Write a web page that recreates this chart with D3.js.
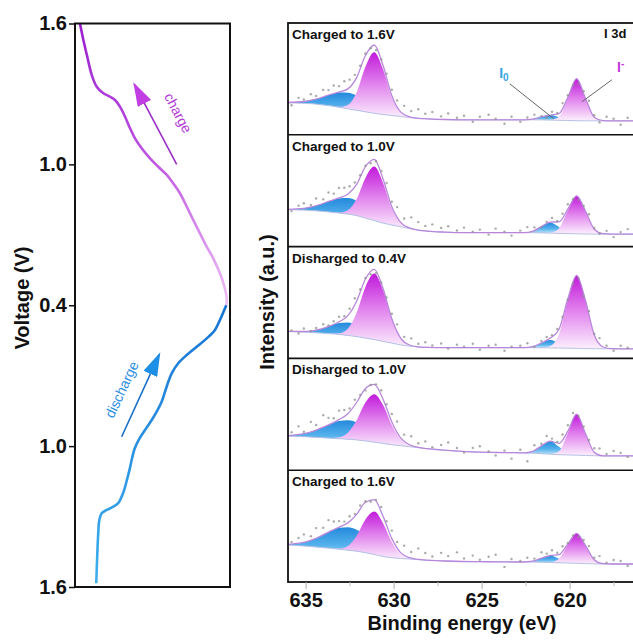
<!DOCTYPE html>
<html><head><meta charset="utf-8">
<script src="https://cdn.jsdelivr.net/npm/d3@7"></script>
<style>
body{margin:0;background:#fff;}
svg{display:block;font-family:"Liberation Sans",Arial,sans-serif;}
</style>
</head><body>
<svg id="c" width="633" height="641"></svg>
<script>
// ---------------- DATA ----------------
// Left panel: voltage profile (capacity in arbitrary %, voltage in V)
const voltageTickPos = [0, 0.6, 1.2, 1.8, 2.4];
const voltageTickLabels = ["1.6", "1.0", "0.4", "1.0", "1.6"];
const chargeCurve = [[3.2,1.6],[5.4,1.53],[7.9,1.459],[10.8,1.381],[14.0,1.331],[18.3,1.303],[22.6,1.288],[25.8,1.274],[29.0,1.246],[32.3,1.203],[35.5,1.154],[38.7,1.111],[43.0,1.069],[48.4,1.026],[53.7,0.99],[59.2,0.955],[63.4,0.919],[67.7,0.877],[72.1,0.82],[76.3,0.763],[80.6,0.706],[85.0,0.649],[89.2,0.6],[93.5,0.536],[96.1,0.486],[97.4,0.451],[97.9,0.422],[97.6,0.40]];
const dischargeCurve = [[97.6,0.40],[93.5,0.463],[90.3,0.505],[85.0,0.541],[78.5,0.577],[72.1,0.612],[66.6,0.647],[62.4,0.69],[60.2,0.726],[58.1,0.768],[55.9,0.811],[52.7,0.853],[49.5,0.889],[45.2,0.931],[41.2,0.972],[38.4,1.012],[36.7,1.055],[35.2,1.100],[33.5,1.144],[31.7,1.187],[30.1,1.215],[27.9,1.243],[24.7,1.258],[20.5,1.272],[17.2,1.286],[15.7,1.315],[15.0,1.371],[14.4,1.456],[14.0,1.528],[13.7,1.584]];
const chargeArrow = [[65.6,1.0],[38.3,1.341]];      // tail, tip (capacity, V)
const dischargeArrow = [[30.1,0.96],[54.4,0.609]];
const chargeLabelAt = [66.5,1.219];
const dischargeLabelAt = [30.1,0.759];

// Right panel: I 3d XPS spectra
const energyGrid = [636,635.1,634.6,634.1,633.6,633.1,632.6,632.1,631.6,631.1,630.6,630.1,629.6,629.1,628.6,628.1,627.1,626.1,625.1,624.1,623.1,622.6,622.1,621.6,621.1,620.6,620.1,619.6,619.1,618.6,618.1,617.6,617.1,616.1,615.1,614];
const panelLabels = ["Charged to 1.6V","Charged to 1.0V","Disharged to 0.4V","Disharged to 1.0V","Charged to 1.6V"];
const energyTicks = [635,630,625,620];
const energyMinorTicks = [632.5,627.5,622.5,617.5];

const bg1 = [32,31.5,31,30,29,27.5,26,24.5,23,21.5,20.3,19.3,18.3,17.3,16.5,16,15.3,15,15,15,15,15,15,14.9,14.7,14.5,14.3,14.1,14,14,14,14,14,14,14,14];
const i0_1 = [0.3,1.8,4.0,7.3,11.3,14.7,16,14.7,11.3,7.3,4.0,1.8,0.7,0.2,0,0,0,0,0,0,0,0,0.7,3,5,3,0.7,0,0,0,0,0,0,0,0,0];
const im_1 = [0,0,0,0,0,0.5,3.9,18,45,61,45,18,3.9,0.5,0,0,0,0,0,0,0,0,0,0,0,3.6,22.6,42,22.6,3.6,0.2,0,0,0,0,0];

const bg2 = [37,36.5,36,35.3,34.5,33.5,32.5,31,28.5,26,23.5,21.5,19.8,18,16.5,15.5,14.5,14,14,14,14,14,13.9,13.7,13.5,13.2,13,12.8,12.6,12.5,12.5,12.5,12.5,12.5,12.5,12.5];
const i0_2 = [0.3,1.8,4.0,7.3,11.3,14.7,16,14.7,11.3,7.3,4.0,1.8,0.7,0.2,0,0,0,0,0,0,0,0,1.4,6.4,10.6,6.4,1.4,0,0,0,0,0,0,0,0,0];
const im_2 = [0,0,0,0,0,0.5,3.8,16.5,40.2,54,40.2,16.5,3.8,0.5,0,0,0,0,0,0,0,0,0,0,0.4,5.1,23,38,23,5.1,0.4,0,0,0,0,0];

const bg3 = [27,26.3,25.8,25.3,24.7,24,23,21.8,20.3,18.8,17,15.3,13.5,12.3,11.5,11,10.8,10.7,10.7,10.7,10.7,10.7,10.7,10.6,10.5,10.4,10.2,10,9.8,9.7,9.6,9.6,9.6,9.6,9.6,9.6];
const i0_3 = [0,0.6,1.8,4.2,7.9,11.5,13,11.5,7.9,4.2,1.8,0.6,0.1,0,0,0,0,0,0,0,0,0,1.1,4.9,8,4.9,1.1,0,0,0,0,0,0,0,0,0];
const im_3 = [0,0,0,0,0,1.1,6.7,23.8,51.2,66,51.2,23.8,6.7,1.1,0.1,0,0,0,0,0,0,0,0,0,1.8,13.9,48.3,73,48.3,13.9,1.8,0.1,0,0,0,0];

const bg4 = [34,33.5,33,32.5,32,31.5,31,30.3,29.3,28,26.8,25.5,24.5,23.5,22.5,21.5,20,18.8,18,17.7,17.5,17.3,17,16.5,16,15.5,15.2,15,14.7,14.5,14.3,14.3,14.3,14.3,14.3,14.3];
const i0_4 = [0.6,3.0,5.8,9.8,14.1,17.7,19,17.7,14.1,9.8,5.8,3.0,1.3,0.5,0.2,0,0,0,0,0,0,0,1.8,7.9,13,7.9,1.8,0.1,0,0,0,0,0,0,0,0];
const im_4 = [0,0,0,0,0,1.4,6.5,19.7,38.4,48,38.4,19.7,6.5,1.4,0.2,0,0,0,0,0,0,0,0,0,0,3.5,22,41,22,3.5,0,0,0,0,0,0];

const bg5 = [37,36,35.3,34.5,33.7,32.8,31.8,30.8,29.3,27.5,25.5,24.3,23.5,23,22.3,21.8,21,20.5,20.3,20.2,20,20,19.9,19.7,19.5,19.2,19,18.7,18.4,18.2,18,18,18,18,18,18];
const i0_5 = [0.7,3.6,7.0,11.8,17.1,21.4,23,21.4,17.1,11.8,7.0,3.6,1.6,0.6,0.2,0,0,0,0,0,0,0,0.9,4.1,6.7,4.1,0.9,0,0,0,0,0,0,0,0,0];
const im_5 = [0,0,0,0,0,0.7,4.3,15.5,33.3,43,33.3,15.5,4.3,0.7,0.1,0,0,0,0,0,0,0,0,0,0.3,4.1,18.2,30,18.2,4.1,0.3,0,0,0,0,0];

// raw data points: energies and residuals from fitted envelope
const dotEnergies = [635.8,635.4,635.1,634.7,634.4,634.0,633.7,633.4,633.1,632.8,632.5,632.2,631.9,631.6,631.3,631.0,630.7,630.4,630.1,629.8,629.4,629.0,628.6,628.2,627.8,627.3,626.9,626.4,626.0,625.5,625.1,624.6,624.2,623.7,623.3,622.8,622.4,622.0,621.6,621.3,621.0,620.7,620.4,620.1,619.8,619.5,619.2,618.9,618.6,618.3,617.9,617.5,617.1,616.7,616.3,615.9,615.5,615.1,614.7];
const res1 = [-3,4,2,6,3,7,5,8,6,9,7,5,3,2,1,-1,2,4,6,5,8,6,9,5,7,3,6,2,4,-2,3,5,1,-4,3,-2,2,4,1,-2,3,1,4,2,1,-1,3,5,2,-3,4,2,-4,3,-2,4,1,-3,2];
const res2 = [-2,3,5,2,7,4,9,6,10,8,6,4,2,1,-1,2,4,7,5,9,6,11,8,5,7,4,6,2,5,1,3,-2,4,1,-3,2,5,3,-1,2,4,1,3,5,2,-1,2,4,1,-2,3,-3,2,5,-4,1,3,-2,4];
const res3 = [1,-2,3,0,2,4,1,3,5,2,4,6,3,1,-1,0,2,3,5,6,4,7,3,5,2,4,-1,3,1,4,-2,2,3,-3,1,2,4,-1,2,3,1,2,0,-1,1,2,-1,3,1,4,2,-2,3,1,-3,2,4,1,-2];
const res4 = [3,8,2,10,5,12,7,4,9,6,3,5,2,-2,1,3,6,4,8,10,6,9,4,7,2,5,8,3,-1,4,6,1,-3,2,-6,3,-9,5,2,7,3,1,4,6,8,2,3,1,4,6,2,5,3,-1,4,2,5,3,1];
const res5 = [2,5,8,4,10,7,12,8,6,3,5,2,4,1,-1,3,6,4,8,5,9,6,11,7,4,8,5,9,3,6,2,5,7,-5,3,1,4,2,6,3,5,2,4,1,2,-1,3,5,2,6,1,4,3,-2,5,2,4,1,3];

// annotation anchors in panel 1 (energy, intensity)
const i0LabelAt = [624.0, 57];
const imLabelAt = [617.3, 63];
const i0Leader = [[623.4, 51],[620.9, 16]];
const imLeader = [[617.6, 55],[619.3, 33]];

// ---------------- DRAW ----------------
const svg = d3.select("#c");
const defs = svg.append("defs");
const BOLD = "bold";

// ===== Left panel =====
const cx = d3.scaleLinear().domain([0,100]).range([75,230]);
const vy = d3.scaleLinear().domain([0,2.4]).range([23.5,587]);

const cg = defs.append("linearGradient").attr("id","chgGrad").attr("gradientUnits","userSpaceOnUse")
  .attr("x1",0).attr("x2",0).attr("y1",vy(0)).attr("y2",vy(1.2));
cg.append("stop").attr("offset",0).attr("stop-color","#9a1fd0");
cg.append("stop").attr("offset",0.45).attr("stop-color","#bb4fe0");
cg.append("stop").attr("offset",1).attr("stop-color","#f0c2f6");
const dg = defs.append("linearGradient").attr("id","disGrad").attr("gradientUnits","userSpaceOnUse")
  .attr("x1",0).attr("x2",0).attr("y1",vy(1.2)).attr("y2",vy(2.4));
dg.append("stop").attr("offset",0).attr("stop-color","#1673d4");
dg.append("stop").attr("offset",1).attr("stop-color","#3eb0ee");

function marker(id, color){
  defs.append("marker").attr("id",id).attr("viewBox","0 0 10 10")
    .attr("refX",9).attr("refY",5).attr("markerUnits","userSpaceOnUse")
    .attr("markerWidth",24).attr("markerHeight",15).attr("orient","auto")
    .attr("preserveAspectRatio","none")
    .append("path").attr("d","M0,0 L10,5 L0,10 Z").attr("fill",color);
}
marker("mChg","#c13ee2");
marker("mDis","#1e8fe6");

svg.append("path").datum(chargeCurve)
  .attr("d", d3.line().x(d=>cx(d[0])).y(d=>vy(1.6-d[1])).curve(d3.curveCatmullRom))
  .attr("fill","none").attr("stroke","url(#chgGrad)").attr("stroke-width",2.6);
svg.append("path").datum(dischargeCurve)
  .attr("d", d3.line().x(d=>cx(d[0])).y(d=>vy(d[1]+0.8)).curve(d3.curveCatmullRom))
  .attr("fill","none").attr("stroke","url(#disGrad)").attr("stroke-width",2.6);

// arrows
svg.append("line")
  .attr("x1",cx(chargeArrow[0][0])).attr("y1",vy(1.6-chargeArrow[0][1]))
  .attr("x2",cx(chargeArrow[1][0])).attr("y2",vy(1.6-chargeArrow[1][1]))
  .attr("stroke","#9a2fc8").attr("stroke-width",1.6).attr("marker-end","url(#mChg)");
svg.append("line")
  .attr("x1",cx(dischargeArrow[0][0])).attr("y1",vy(dischargeArrow[0][1]+0.8))
  .attr("x2",cx(dischargeArrow[1][0])).attr("y2",vy(dischargeArrow[1][1]+0.8))
  .attr("stroke","#1a70c8").attr("stroke-width",1.6).attr("marker-end","url(#mDis)");

svg.append("text").text("charge")
  .attr("transform",`translate(${cx(chargeLabelAt[0])},${vy(1.6-chargeLabelAt[1])}) rotate(62)`)
  .attr("text-anchor","middle").attr("dy","0.35em")
  .attr("font-size",14).attr("fill","#b23ad6");
svg.append("text").text("discharge")
  .attr("transform",`translate(${cx(dischargeLabelAt[0])},${vy(dischargeLabelAt[1]+0.8)}) rotate(-65)`)
  .attr("text-anchor","middle").attr("dy","0.35em")
  .attr("font-size",14).attr("fill","#2a8ee0");

svg.append("rect").attr("x",cx(0)).attr("y",vy(0)).attr("width",cx(100)-cx(0)).attr("height",vy(2.4)-vy(0))
  .attr("fill","none").attr("stroke","#111").attr("stroke-width",2);

const yAx = svg.append("g").attr("transform",`translate(${cx(0)},0)`)
  .call(d3.axisLeft(vy).tickValues(voltageTickPos).tickFormat((d,i)=>voltageTickLabels[i]).tickSize(6).tickPadding(2));
yAx.select(".domain").remove();
yAx.selectAll("line").attr("stroke","#111").attr("stroke-width",1.5);
yAx.selectAll("text").attr("font-size",20).attr("font-weight",BOLD).attr("fill","#111")
  .attr("font-family","Liberation Sans, Arial, sans-serif");

svg.append("text").text("Voltage (V)")
  .attr("transform","translate(29,298) rotate(-90)").attr("text-anchor","middle")
  .attr("font-size",20).attr("font-weight",BOLD).attr("fill","#111");

// ===== Right panel =====
const top0 = 23, bottom0 = 582, nP = 5;
const pH = (bottom0-top0)/nP;
const ex = d3.scaleLinear().domain([636,614]).range([288, 288+22*17.6]);

defs.append("clipPath").attr("id","rclip").append("rect")
  .attr("x",288).attr("y",top0).attr("width",633-288).attr("height",bottom0-top0);

function vgrad(id, stops){
  const g = defs.append("linearGradient").attr("id",id).attr("x1",0).attr("x2",0).attr("y1",0).attr("y2",1);
  stops.forEach(s=>g.append("stop").attr("offset",s[0]).attr("stop-color",s[1]));
}
vgrad("gMag", [[0,"#c11ada"],[0.45,"#df7cec"],[1,"#fcf0fd"]]);
vgrad("gBlue", [[0,"#2489dc"],[0.55,"#55b2ec"],[1,"#cdebfa"]]);

const panels = [
  {label: panelLabels[0], bg: bg1, i0: i0_1, im: im_1, res: res1},
  {label: panelLabels[1], bg: bg2, i0: i0_2, im: im_2, res: res2},
  {label: panelLabels[2], bg: bg3, i0: i0_3, im: im_3, res: res3},
  {label: panelLabels[3], bg: bg4, i0: i0_4, im: im_4, res: res4},
  {label: panelLabels[4], bg: bg5, i0: i0_5, im: im_5, res: res5},
];

function runs(arr){
  const out = []; let s = -1;
  arr.forEach((v,i)=>{
    if (v>0 && s<0) s=i;
    if ((v<=0 || i===arr.length-1) && s>=0){ out.push([Math.max(0,s-1), i]); s=-1; }
  });
  return out;
}

const rp = svg.append("g").attr("clip-path","url(#rclip)");

panels.forEach((p,k)=>{
  const t = top0 + k*pH, b = t + pH;
  const y = d3.scaleLinear().domain([0,pH]).range([b,t]);
  const g = rp.append("g");
  const env = energyGrid.map((e,i)=>p.bg[i]+p.i0[i]+p.im[i]);

  function drawComp(comp, fill){
    runs(comp).forEach(([a,z])=>{
      const idx = d3.range(a,z+1);
      g.append("path").datum(idx)
        .attr("d", d3.area().x(i=>ex(energyGrid[i])).y0(i=>y(p.bg[i])).y1(i=>y(p.bg[i]+comp[i])).curve(d3.curveMonotoneX))
        .attr("fill",fill).attr("stroke","none");
    });
  }
  drawComp(p.i0, "url(#gBlue)");
  drawComp(p.im, "url(#gMag)");

  const idxAll = d3.range(energyGrid.length);
  g.append("path").datum(idxAll)
    .attr("d", d3.line().x(i=>ex(energyGrid[i])).y(i=>y(p.bg[i])).curve(d3.curveMonotoneX))
    .attr("fill","none").attr("stroke","#b7c2e6").attr("stroke-width",1);
  g.append("path").datum(idxAll)
    .attr("d", d3.line().x(i=>ex(energyGrid[i])).y(i=>y(env[i])).curve(d3.curveMonotoneX))
    .attr("fill","none").attr("stroke","#b887dc").attr("stroke-width",1.3);

  const envAt = d3.scaleLinear().domain(energyGrid).range(env);
  g.selectAll("circle.pt").data(dotEnergies).join("circle")
    .attr("cx", e=>ex(e)).attr("cy",(e,i)=>y(envAt(e)+p.res[i]))
    .attr("r",1.2).attr("fill","#8e8e8e").attr("opacity",0.75);

  svg.append("text").text(p.label).attr("x",292).attr("y",t+16)
    .attr("font-size",13.5).attr("font-weight",BOLD).attr("fill","#111");

  if (k===0){
    svg.append("text").text("I 3d").attr("x",604).attr("y",t+15)
      .attr("font-size",13).attr("font-weight",BOLD).attr("fill","#111");
    const l0 = svg.append("text").attr("x",ex(i0LabelAt[0])).attr("y",y(i0LabelAt[1]))
      .attr("font-size",14).attr("font-weight",BOLD).attr("fill","#36a5e6");
    l0.append("tspan").text("I");
    l0.append("tspan").text("0").attr("font-size",10).attr("dy",3);
    const lm = svg.append("text").attr("x",ex(imLabelAt[0])).attr("y",y(imLabelAt[1]))
      .attr("font-size",14).attr("font-weight",BOLD).attr("fill","#c23ad8");
    lm.append("tspan").text("I");
    lm.append("tspan").text("-").attr("font-size",10).attr("dy",-5);
    [i0Leader, imLeader].forEach(L=>{
      svg.append("line").attr("x1",ex(L[0][0])).attr("y1",y(L[0][1]))
        .attr("x2",ex(L[1][0])).attr("y2",y(L[1][1]))
        .attr("stroke","#666").attr("stroke-width",1);
    });
  }
});

// frame and separators
svg.append("rect").attr("x",288).attr("y",top0).attr("width",420).attr("height",bottom0-top0)
  .attr("fill","none").attr("stroke","#111").attr("stroke-width",1.8);
d3.range(1,nP).forEach(k=>{
  svg.append("line").attr("x1",288).attr("x2",633).attr("y1",top0+k*pH).attr("y2",top0+k*pH)
    .attr("stroke","#111").attr("stroke-width",1.6);
});

const xAx = svg.append("g").attr("transform",`translate(0,${bottom0})`)
  .call(d3.axisBottom(ex).tickValues(energyTicks).tickFormat(d3.format("d")).tickSize(7).tickPadding(4));
xAx.select(".domain").remove();
xAx.selectAll("line").attr("stroke","#aaa");
xAx.selectAll("text").attr("font-size",20).attr("font-weight",BOLD).attr("fill","#111")
  .attr("font-family","Liberation Sans, Arial, sans-serif");
const xMin = svg.append("g").attr("transform",`translate(0,${bottom0})`)
  .call(d3.axisBottom(ex).tickValues(energyMinorTicks).tickFormat("").tickSize(4));
xMin.select(".domain").remove();
xMin.selectAll("line").attr("stroke","#bbb");

svg.append("text").text("Binding energy (eV)").attr("x",462).attr("y",630)
  .attr("text-anchor","middle").attr("font-size",20).attr("font-weight",BOLD).attr("fill","#111");
svg.append("text").text("Intensity (a.u.)")
  .attr("transform","translate(274,302) rotate(-90)").attr("text-anchor","middle")
  .attr("font-size",20).attr("font-weight",BOLD).attr("fill","#111");
</script>
</body></html>
